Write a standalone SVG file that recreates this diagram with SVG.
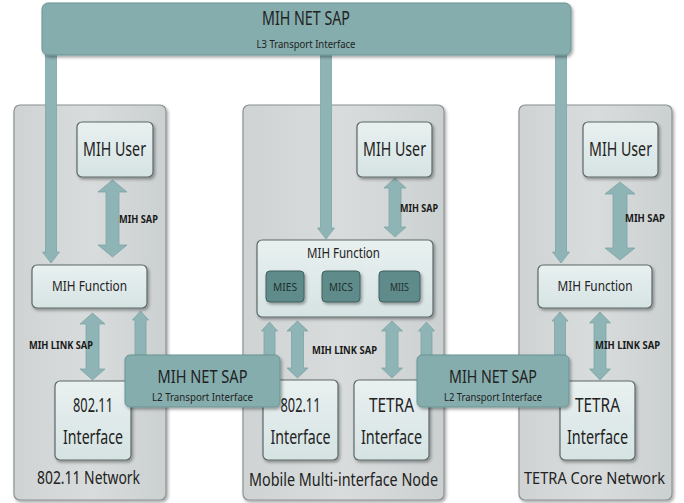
<svg xmlns="http://www.w3.org/2000/svg" width="684" height="503" viewBox="0 0 684 503">
  <defs>
    <linearGradient id="panelGrad" x1="0" y1="0" x2="1" y2="0">
      <stop offset="0" stop-color="#cfd3d3"/>
      <stop offset="0.5" stop-color="#d9dcdc"/>
      <stop offset="1" stop-color="#cbd0d0"/>
    </linearGradient>
    <linearGradient id="boxGrad" x1="0" y1="0" x2="0" y2="1">
      <stop offset="0" stop-color="#e9f0f0"/>
      <stop offset="1" stop-color="#d6e3e3"/>
    </linearGradient>
    <filter id="shadow" x="-10%" y="-10%" width="130%" height="130%">
      <feDropShadow dx="1.5" dy="2" stdDeviation="1.5" flood-color="#000" flood-opacity="0.35"/>
    </filter>
    <style>
      .panel { fill: url(#panelGrad); stroke: #8a9292; stroke-width: 1.2; filter: url(#shadow); }
      .box { fill: url(#boxGrad); stroke: #5d6868; stroke-width: 1.2; filter: url(#shadow); }
      .sap { fill: #85adad; stroke: #6a9393; stroke-width: 1; filter: url(#shadow); }
      .svc { fill: #5f8c8a; stroke: #3e605e; stroke-width: 1; filter: url(#shadow); }
      .arrow { fill: #8fb4b6; stroke: #7ea4a6; stroke-width: 0.8; }
      text { font-family: "Noto Sans", "Open Sans", sans-serif; fill: #222; text-anchor: middle; }
      .big { font-size: 19px; }
      .net { font-size: 18px; }
      .netsm { font-size: 16px; }
      .mid { font-size: 15px; }
      .small { font-size: 10px; }
      .lbl { font-size: 10.5px; font-weight: bold; fill: #1a1a1a; }
      .svct { font-size: 11px; fill: #1e2e2e; }
    </style>
  </defs>

  <!-- network panels -->
  <g id="panel-80211">
    <rect class="panel" x="14" y="105" width="152" height="395" rx="6"/>
    <text class="net" x="88.5" y="484" textLength="103" lengthAdjust="spacingAndGlyphs">802.11 Network</text>
  </g>
  <g id="panel-mobile">
    <rect class="panel" x="243" y="105" width="201" height="395" rx="6"/>
    <text class="net" x="343.5" y="486" textLength="189" lengthAdjust="spacingAndGlyphs">Mobile Multi-interface Node</text>
  </g>
  <g id="panel-tetra">
    <rect class="panel" x="519" y="105" width="153" height="395" rx="6"/>
    <text class="netsm" x="594.5" y="484" textLength="141" lengthAdjust="spacingAndGlyphs">TETRA Core Network</text>
  </g>

  <!-- connectors -->
  <g id="connectors">
    <!-- L3 transport stems -->
    <path class="arrow" d="M45.5,50 L56.5,50 L56.5,252 L59.5,252 L51,263 L42.5,252 L45.5,252 Z"/>
    <path class="arrow" d="M320.5,50 L331.5,50 L331.5,228 L334.5,228 L326,239 L317.5,228 L320.5,228 Z"/>
    <path class="arrow" d="M555.5,50 L566.5,50 L566.5,252 L569.5,252 L561,263 L552.5,252 L555.5,252 Z"/>
    <!-- MIH SAP -->
    <path class="arrow" d="M112.5,180 L127,192 L119,192 L119,245 L127,245 L112.5,257 L98,245 L106,245 L106,192 L98,192 Z"/>
    <path class="arrow" d="M395,178 L406,188 L401,188 L401,227 L406,227 L395,237 L384,227 L389,227 L389,188 L384,188 Z"/>
    <path class="arrow" d="M620,182 L635,194 L627,194 L627,248 L635,248 L620,260 L605,248 L613,248 L613,194 L605,194 Z"/>
    <!-- MIH LINK SAP -->
    <path class="arrow" d="M92.5,313 L105,324 L99,324 L99,369 L105,369 L92.5,380 L80,369 L86,369 L86,324 L80,324 Z"/>
    <path class="arrow" d="M297.5,321 L308,331 L303.5,331 L303.5,368 L308,368 L297.5,378 L287,368 L291.5,368 L291.5,331 L287,331 Z"/>
    <path class="arrow" d="M392,321 L402.5,331 L398,331 L398,368 L402.5,368 L392,378 L381.5,368 L386,368 L386,331 L381.5,331 Z"/>
    <path class="arrow" d="M600,312 L610.5,323 L606,323 L606,369 L610.5,369 L600,380 L589.5,369 L594,369 L594,323 L589.5,323 Z"/>
    <!-- L2 transport stems -->
    <path class="arrow" d="M140.5,311 L148.5,320 L146,320 L146,365 L135,365 L135,320 L132.5,320 Z"/>
    <path class="arrow" d="M269.5,322 L277.5,331 L275,331 L275,365 L264,365 L264,331 L261.5,331 Z"/>
    <path class="arrow" d="M426.5,322 L434.5,331 L432,331 L432,365 L421,365 L421,331 L418.5,331 Z"/>
    <path class="arrow" d="M560,312 L568,321 L565.5,321 L565.5,365 L554.5,365 L554.5,321 L552,321 Z"/>
    <text class="lbl" x="138.5" y="223" textLength="39" lengthAdjust="spacingAndGlyphs">MIH SAP</text>
    <text class="lbl" x="419" y="212" textLength="38" lengthAdjust="spacingAndGlyphs">MIH SAP</text>
    <text class="lbl" x="645" y="222" textLength="40" lengthAdjust="spacingAndGlyphs">MIH SAP</text>
    <text class="lbl" x="61" y="349" textLength="64" lengthAdjust="spacingAndGlyphs">MIH LINK SAP</text>
    <text class="lbl" x="344.5" y="354" textLength="65" lengthAdjust="spacingAndGlyphs">MIH LINK SAP</text>
    <text class="lbl" x="627.5" y="349" textLength="65" lengthAdjust="spacingAndGlyphs">MIH LINK SAP</text>
  </g>

  <!-- L3 transport SAP -->
  <g id="l3-sap">
    <rect class="sap" x="42" y="3" width="529" height="52" rx="6"/>
    <text class="big" x="306" y="25" textLength="88" lengthAdjust="spacingAndGlyphs">MIH NET SAP</text>
    <text class="small" x="306" y="48" textLength="99" lengthAdjust="spacingAndGlyphs">L3 Transport Interface</text>
  </g>

  <!-- MIH users -->
  <g id="user-80211">
    <rect class="box" x="77" y="122" width="76" height="55" rx="5"/>
    <text class="big" x="114.5" y="156" textLength="63" lengthAdjust="spacingAndGlyphs">MIH User</text>
  </g>
  <g id="user-mobile">
    <rect class="box" x="357" y="122" width="75" height="55" rx="5"/>
    <text class="big" x="394.5" y="156" textLength="63" lengthAdjust="spacingAndGlyphs">MIH User</text>
  </g>
  <g id="user-tetra">
    <rect class="box" x="583" y="122" width="75" height="55" rx="5"/>
    <text class="big" x="620.5" y="156" textLength="63" lengthAdjust="spacingAndGlyphs">MIH User</text>
  </g>

  <!-- MIH functions -->
  <g id="function-80211">
    <rect class="box" x="32" y="265" width="115" height="43" rx="5"/>
    <text class="mid" x="89.5" y="291" textLength="75" lengthAdjust="spacingAndGlyphs">MIH Function</text>
  </g>
  <g id="function-mobile">
    <rect class="box" x="257" y="240" width="176" height="77" rx="5"/>
    <text class="mid" x="343.5" y="258" textLength="73" lengthAdjust="spacingAndGlyphs">MIH Function</text>
    <g id="mies">
      <rect class="svc" x="266" y="271" width="38" height="31" rx="4"/>
      <text class="svct" x="285" y="290.5" textLength="24" lengthAdjust="spacingAndGlyphs">MIES</text>
    </g>
    <g id="mics">
      <rect class="svc" x="322" y="271" width="38" height="31" rx="4"/>
      <text class="svct" x="341" y="290.5" textLength="24" lengthAdjust="spacingAndGlyphs">MICS</text>
    </g>
    <g id="miis">
      <rect class="svc" x="379" y="271" width="41" height="31" rx="4"/>
      <text class="svct" x="399.5" y="290.5" textLength="19" lengthAdjust="spacingAndGlyphs">MIIS</text>
    </g>
  </g>
  <g id="function-tetra">
    <rect class="box" x="538" y="265" width="114" height="43" rx="5"/>
    <text class="mid" x="595" y="291" textLength="75" lengthAdjust="spacingAndGlyphs">MIH Function</text>
  </g>

  <!-- link interfaces -->
  <g id="if-80211-net">
    <rect class="box" x="55" y="381" width="76" height="79" rx="5"/>
    <text class="big" x="93" y="412" textLength="40" lengthAdjust="spacingAndGlyphs">802.11</text>
    <text class="big" x="93" y="444" textLength="60" lengthAdjust="spacingAndGlyphs">Interface</text>
  </g>
  <g id="if-80211-mobile">
    <rect class="box" x="263" y="380" width="75" height="80" rx="5"/>
    <text class="big" x="300.5" y="412" textLength="40" lengthAdjust="spacingAndGlyphs">802.11</text>
    <text class="big" x="300.5" y="444" textLength="60" lengthAdjust="spacingAndGlyphs">Interface</text>
  </g>
  <g id="if-tetra-mobile">
    <rect class="box" x="354" y="380" width="75" height="80" rx="5"/>
    <text class="big" x="391.5" y="412" textLength="45" lengthAdjust="spacingAndGlyphs">TETRA</text>
    <text class="big" x="391.5" y="444" textLength="61" lengthAdjust="spacingAndGlyphs">Interface</text>
  </g>
  <g id="if-tetra-net">
    <rect class="box" x="560" y="381" width="75" height="79" rx="5"/>
    <text class="big" x="597.5" y="412" textLength="45" lengthAdjust="spacingAndGlyphs">TETRA</text>
    <text class="big" x="597.5" y="444" textLength="61" lengthAdjust="spacingAndGlyphs">Interface</text>
  </g>

  <!-- L2 transport SAPs -->
  <g id="l2-sap-left">
    <rect class="sap" x="125" y="355" width="155" height="52" rx="5"/>
    <text class="net" x="202.5" y="383" textLength="90" lengthAdjust="spacingAndGlyphs">MIH NET SAP</text>
    <text class="small" x="202.5" y="401" textLength="101" lengthAdjust="spacingAndGlyphs">L2 Transport Interface</text>
  </g>
  <g id="l2-sap-right">
    <rect class="sap" x="417" y="355" width="152" height="52" rx="5"/>
    <text class="net" x="493" y="383" textLength="88" lengthAdjust="spacingAndGlyphs">MIH NET SAP</text>
    <text class="small" x="493" y="401" textLength="98" lengthAdjust="spacingAndGlyphs">L2 Transport Interface</text>
  </g>
</svg>
